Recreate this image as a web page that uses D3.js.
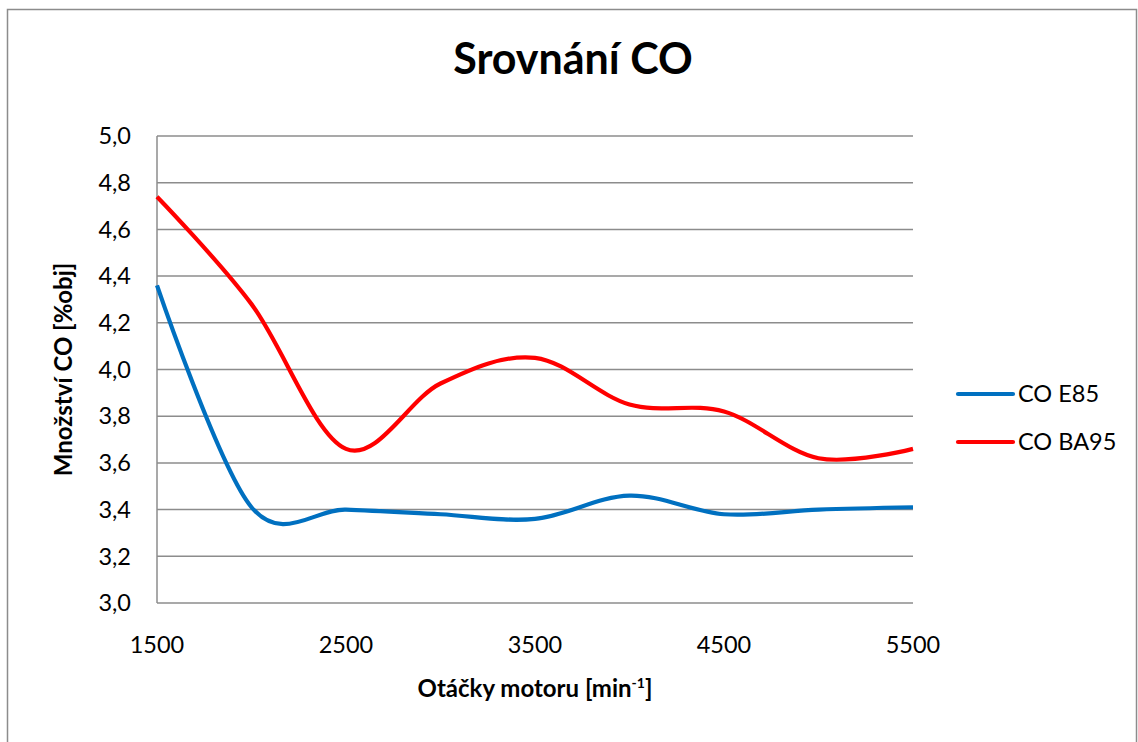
<!DOCTYPE html>
<html lang="cs">
<head>
    <meta charset="UTF-8">
    <title>Srovnání CO</title>
    <style>
        body {
            margin: 0;
            background: #ffffff;
            font-family: Lato, "Open Sans", sans-serif;
        }
        .grid line {
            stroke: #8c8c8c;
            stroke-width: 1.5;
        }
        .tick-label {
            font-size: 23.5px;
            fill: #000;
        }
        .axis-title {
            font-size: 24px;
            font-weight: bold;
            fill: #000;
        }
    </style>
</head>
<body>
    <div id="chart"></div>

    <script src="https://d3js.org/d3.v7.min.js"></script>
    <script>
        // data (otáčky vs. CO %obj)
        var rpm = [1500, 2000, 2500, 3000, 3500, 4000, 4500, 5000, 5500];
        var coE85 = [4.36, 3.41, 3.40, 3.38, 3.36, 3.46, 3.38, 3.40, 3.41];
        var coBA95 = [4.74, 4.28, 3.66, 3.94, 4.05, 3.85, 3.82, 3.62, 3.66];
        var seriesNames = ["CO E85", "CO BA95"];
        var seriesColors = ["#0070c0", "#ff0000"];
        var xTicks = [1500, 2500, 3500, 4500, 5500];
        var yTicks = [3.0, 3.2, 3.4, 3.6, 3.8, 4.0, 4.2, 4.4, 4.6, 4.8, 5.0];

        var width = 1138;
        var height = 742;
        var plot = { left: 157, right: 913, top: 136, bottom: 603 };

        var svg = d3.select("#chart")
            .append("svg")
            .attr("width", width)
            .attr("height", height);

        // outer chart frame
        svg.append("rect")
            .attr("x", 7.5)
            .attr("y", 9.5)
            .attr("width", 1129)
            .attr("height", 760)
            .attr("fill", "none")
            .attr("stroke", "#8c8c8c")
            .attr("stroke-width", 1.5);

        var x = d3.scaleLinear().domain([1500, 5500]).range([plot.left, plot.right]);
        var y = d3.scaleLinear().domain([3.0, 5.0]).range([plot.bottom, plot.top]);

        // horizontal gridlines
        svg.append("g")
            .attr("class", "grid")
            .selectAll("line")
            .data(yTicks)
            .enter()
            .append("line")
            .attr("x1", plot.left)
            .attr("x2", plot.right)
            .attr("y1", function(d) { return y(d); })
            .attr("y2", function(d) { return y(d); });

        // left axis line
        svg.append("line")
            .attr("x1", plot.left)
            .attr("x2", plot.left)
            .attr("y1", plot.top)
            .attr("y2", plot.bottom)
            .attr("stroke", "#8c8c8c")
            .attr("stroke-width", 1.5);

        // y tick labels
        svg.selectAll(".ylab")
            .data(yTicks)
            .enter()
            .append("text")
            .attr("class", "tick-label")
            .attr("x", 131)
            .attr("y", function(d) { return y(d); })
            .attr("dy", "0.35em")
            .attr("text-anchor", "end")
            .text(function(d) { return d.toFixed(1).replace(".", ","); });

        // x tick labels
        svg.selectAll(".xlab")
            .data(xTicks)
            .enter()
            .append("text")
            .attr("class", "tick-label")
            .attr("x", function(d) { return x(d); })
            .attr("y", 653)
            .attr("text-anchor", "middle")
            .text(function(d) { return d; });

        // lines - smoothed like Excel
        var line = d3.line()
            .x(function(d) { return x(d[0]); })
            .y(function(d) { return y(d[1]); })
            .curve(d3.curveCatmullRom.alpha(0));

        var allSeries = [coE85, coBA95];
        allSeries.forEach(function(vals, i) {
            svg.append("path")
                .datum(rpm.map(function(r, j) { return [r, vals[j]]; }))
                .attr("d", line)
                .attr("fill", "none")
                .attr("stroke", seriesColors[i])
                .attr("stroke-width", 4.2)
                .attr("stroke-linejoin", "round");
        });

        // title
        svg.append("text")
            .attr("x", 573)
            .attr("y", 74)
            .attr("text-anchor", "middle")
            .attr("font-size", "43px")
            .attr("font-weight", "bold")
            .text("Srovnání CO");

        // axis titles
        var xt = svg.append("text")
            .attr("class", "axis-title")
            .attr("x", (plot.left + plot.right) / 2)
            .attr("y", 697)
            .attr("text-anchor", "middle");
        xt.append("tspan").text("Otáčky motoru [min");
        xt.append("tspan").attr("font-size", "14px").attr("dy", "-9").text("-1");
        xt.append("tspan").attr("dy", "9").text("]");

        svg.append("text")
            .attr("class", "axis-title")
            .attr("transform", "translate(72," + ((plot.top + plot.bottom) / 2) + ") rotate(-90)")
            .attr("text-anchor", "middle")
            .text("Množství CO [%obj]");

        // legend
        var legend = svg.selectAll(".legend")
            .data(seriesNames)
            .enter()
            .append("g")
            .attr("transform", function(d, i) { return "translate(958," + (394 + i * 48) + ")"; });

        legend.append("line")
            .attr("x1", 0)
            .attr("x2", 55)
            .attr("stroke", function(d, i) { return seriesColors[i]; })
            .attr("stroke-width", 4.2)
            .attr("stroke-linecap", "round");

        legend.append("text")
            .attr("class", "tick-label")
            .attr("x", 60)
            .attr("dy", "0.35em")
            .text(function(d) { return d; });
    </script>
</body>
</html>
